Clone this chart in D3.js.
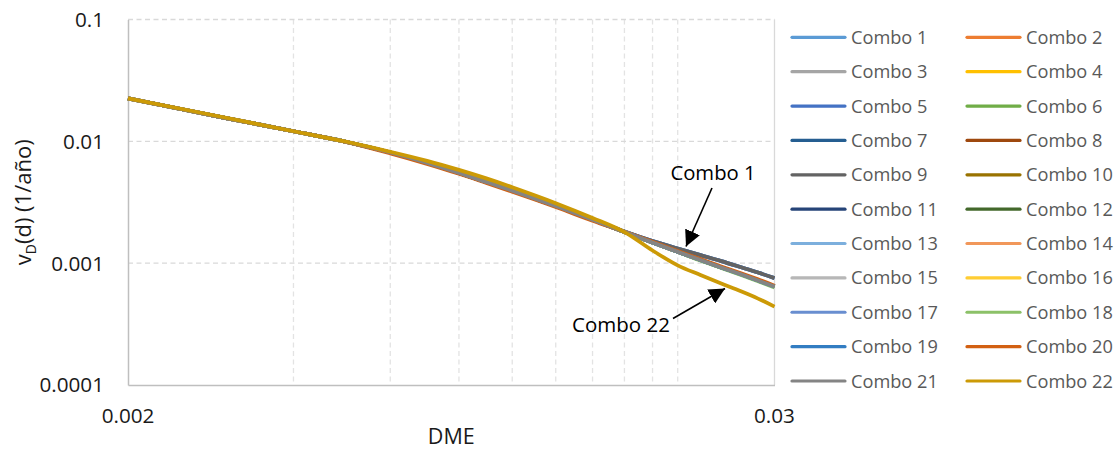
<!DOCTYPE html>
<html>
<head>
<meta charset="utf-8">
<script src="https://cdn.jsdelivr.net/npm/d3@7"></script>
<style>
  html, body { margin: 0; padding: 0; background: #ffffff; }
  svg { display: block; font-family: "Open Sans", "Noto Sans", sans-serif; }
</style>
</head>
<body>
<svg id="chart" width="1116" height="451"></svg>
<script>
// DME values shared by every combination
const dme = [0.002, 0.003, 0.004, 0.005, 0.006, 0.007, 0.008, 0.009, 0.010, 0.012,
             0.014, 0.016, 0.018, 0.020, 0.022, 0.024, 0.026, 0.028, 0.030];

// Annual rate of exceedance νD(d) for each combination
const combo1  = [0.0225, 0.0156, 0.0121, 0.00987, 0.00809, 0.00666, 0.00551, 0.00461, 0.00394, 0.00297, 0.00229, 0.00182, 0.00152, 0.00132, 0.001165, 0.00104, 0.00093, 0.000837, 0.000754];
const combo2  = [0.0225, 0.0156, 0.0121, 0.00987, 0.00809, 0.00666, 0.00551, 0.00461, 0.00394, 0.00294, 0.00227, 0.00180, 0.00148, 0.00124, 0.00106, 0.000923, 0.000814, 0.000722, 0.000642];
const combo3  = [0.0225, 0.0156, 0.0121, 0.00987, 0.00809, 0.00666, 0.00551, 0.00461, 0.00394, 0.00294, 0.00227, 0.00180, 0.00148, 0.00124, 0.00106, 0.000923, 0.000814, 0.000722, 0.000642];
const combo4  = [0.0225, 0.0156, 0.0121, 0.00987, 0.00809, 0.00666, 0.00551, 0.00461, 0.00394, 0.00294, 0.00227, 0.00180, 0.00148, 0.00124, 0.00106, 0.000923, 0.000814, 0.000722, 0.000642];
const combo5  = [0.0225, 0.0156, 0.0121, 0.00987, 0.00809, 0.00666, 0.00551, 0.00461, 0.00394, 0.00297, 0.00229, 0.00182, 0.00152, 0.00132, 0.001165, 0.00104, 0.00093, 0.000837, 0.000754];
const combo6  = [0.0225, 0.0156, 0.0121, 0.00987, 0.00809, 0.00666, 0.00551, 0.00461, 0.00394, 0.00294, 0.00227, 0.00180, 0.00148, 0.00124, 0.00106, 0.000923, 0.000814, 0.000722, 0.000642];
const combo7  = [0.0225, 0.0156, 0.0121, 0.00987, 0.00809, 0.00666, 0.00551, 0.00461, 0.00394, 0.00294, 0.00227, 0.00180, 0.00148, 0.00124, 0.00106, 0.000923, 0.000814, 0.000722, 0.000642];
const combo8  = [0.0225, 0.0156, 0.0121, 0.00987, 0.00809, 0.00666, 0.00551, 0.00461, 0.00394, 0.00294, 0.00227, 0.00180, 0.00148, 0.00124, 0.00106, 0.000923, 0.000814, 0.000722, 0.000642];
const combo9  = [0.0225, 0.0156, 0.0121, 0.00987, 0.00809, 0.00666, 0.00551, 0.00461, 0.00394, 0.00297, 0.00229, 0.00182, 0.00152, 0.00132, 0.001165, 0.00104, 0.00093, 0.000837, 0.000754];
const combo10 = [0.0225, 0.0156, 0.0121, 0.00987, 0.00809, 0.00666, 0.00551, 0.00461, 0.00394, 0.00294, 0.00227, 0.00180, 0.00148, 0.00124, 0.00106, 0.000923, 0.000814, 0.000722, 0.000642];
const combo11 = [0.0225, 0.0156, 0.0121, 0.00987, 0.00809, 0.00666, 0.00551, 0.00461, 0.00394, 0.00294, 0.00227, 0.00180, 0.00148, 0.00124, 0.00106, 0.000923, 0.000814, 0.000722, 0.000642];
const combo12 = [0.0225, 0.0156, 0.0121, 0.00987, 0.00809, 0.00666, 0.00551, 0.00461, 0.00394, 0.00294, 0.00227, 0.00180, 0.00148, 0.00124, 0.00106, 0.000923, 0.000814, 0.000722, 0.000642];
const combo13 = [0.0225, 0.0156, 0.0121, 0.00987, 0.00809, 0.00666, 0.00551, 0.00461, 0.00394, 0.00294, 0.00227, 0.00180, 0.00148, 0.00124, 0.00106, 0.000923, 0.000814, 0.000722, 0.000642];
const combo14 = [0.0225, 0.0156, 0.0121, 0.00987, 0.00809, 0.00666, 0.00551, 0.00461, 0.00394, 0.00294, 0.00227, 0.00180, 0.00148, 0.00124, 0.00106, 0.000923, 0.000814, 0.000722, 0.000642];
const combo15 = [0.0225, 0.0156, 0.0121, 0.00987, 0.00809, 0.00666, 0.00551, 0.00461, 0.00394, 0.00294, 0.00227, 0.00180, 0.00148, 0.00124, 0.00106, 0.000923, 0.000814, 0.000722, 0.000642];
const combo16 = [0.0225, 0.0156, 0.0121, 0.00987, 0.00809, 0.00666, 0.00551, 0.00461, 0.00394, 0.00294, 0.00227, 0.00180, 0.00148, 0.00124, 0.00106, 0.000923, 0.000814, 0.000722, 0.000642];
const combo17 = [0.0225, 0.0156, 0.0121, 0.00987, 0.00809, 0.00666, 0.00551, 0.00461, 0.00394, 0.00294, 0.00227, 0.00180, 0.00148, 0.00124, 0.00106, 0.000923, 0.000814, 0.000722, 0.000642];
const combo18 = [0.0225, 0.0156, 0.0121, 0.00987, 0.00809, 0.00666, 0.00551, 0.00461, 0.00394, 0.00294, 0.00227, 0.00180, 0.00148, 0.00124, 0.00105, 0.000915, 0.000805, 0.000711, 0.000630];
const combo19 = [0.0225, 0.0156, 0.0121, 0.00987, 0.00809, 0.00666, 0.00551, 0.00461, 0.00394, 0.00294, 0.00227, 0.00180, 0.00148, 0.00124, 0.00106, 0.000923, 0.000814, 0.000722, 0.000642];
const combo20 = [0.0225, 0.0156, 0.0121, 0.00985, 0.00796, 0.00653, 0.00541, 0.00453, 0.00386, 0.00289, 0.00223, 0.00181, 0.00150, 0.00126, 0.00108, 0.00094, 0.00083, 0.000736, 0.000654];
const combo21 = [0.0225, 0.0156, 0.0121, 0.00987, 0.00809, 0.00666, 0.00551, 0.00461, 0.00394, 0.00294, 0.00227, 0.00180, 0.00148, 0.00124, 0.00106, 0.000923, 0.000814, 0.000722, 0.000642];
const combo22 = [0.0225, 0.0157, 0.0121, 0.00992, 0.00822, 0.00692, 0.00583, 0.00494, 0.00420, 0.00311, 0.00235, 0.00180, 0.00127, 0.00096, 0.000799, 0.00068, 0.00059, 0.000512, 0.00044];

const seriesNames = ["Combo 1", "Combo 2", "Combo 3", "Combo 4", "Combo 5", "Combo 6", "Combo 7", "Combo 8",
  "Combo 9", "Combo 10", "Combo 11", "Combo 12", "Combo 13", "Combo 14", "Combo 15", "Combo 16",
  "Combo 17", "Combo 18", "Combo 19", "Combo 20", "Combo 21", "Combo 22"];
const seriesValues = [combo1, combo2, combo3, combo4, combo5, combo6, combo7, combo8, combo9, combo10, combo11,
  combo12, combo13, combo14, combo15, combo16, combo17, combo18, combo19, combo20, combo21, combo22];
const seriesColors = ["#5B9BD5", "#ED7D31", "#A5A5A5", "#FFC000", "#4472C4", "#70AD47", "#255E91", "#9E480E",
  "#636363", "#997300", "#264478", "#43682B", "#7CAFDD", "#F1975A", "#B7B7B7", "#FFCD33",
  "#698ED0", "#8CC168", "#327DC2", "#D26012", "#848484", "#CC9A06"];

// Axis ticks and gridlines
const xTickLabels = [0.002, 0.03];
const xGridValues = [0.004, 0.006, 0.008, 0.010, 0.012, 0.014, 0.016, 0.018, 0.020];
const yTickValues = [0.1, 0.01, 0.001, 0.0001];

// Callouts
const calloutLabels = ["Combo 1", "Combo 22"];

const svg = d3.select("#chart");
const plot = { left: 128, right: 774.5, top: 19.5, bottom: 385 };

const x = d3.scaleLog().domain([0.002, 0.03]).range([plot.left, plot.right]);
const y = d3.scaleLog().domain([0.0001, 0.1]).range([plot.bottom, plot.top]);

// Gridlines
const grid = svg.append("g");
grid.selectAll("line.vg").data(xGridValues).join("line")
  .attr("x1", d => x(d)).attr("x2", d => x(d))
  .attr("y1", plot.top).attr("y2", plot.bottom)
  .attr("stroke", "#e3e3e3").attr("stroke-width", 1.3).attr("stroke-dasharray", "5,3.5");
grid.selectAll("line.hg").data(yTickValues.slice(0, 3)).join("line")
  .attr("x1", plot.left).attr("x2", plot.right)
  .attr("y1", d => y(d)).attr("y2", d => y(d))
  .attr("stroke", "#d9d9d9").attr("stroke-width", 1.3).attr("stroke-dasharray", "5,3.5");
// right edge of the plot area
grid.append("line")
  .attr("x1", plot.right).attr("x2", plot.right)
  .attr("y1", plot.top).attr("y2", plot.bottom)
  .attr("stroke", "#d9d9d9").attr("stroke-width", 1.3);

// Axes (lines drawn with d3 axis generators, labels positioned separately)
const yAxis = svg.append("g").attr("transform", `translate(${plot.left},0)`)
  .call(d3.axisLeft(y).tickValues(yTickValues).tickSize(0).tickFormat(""));
yAxis.select(".domain").attr("stroke", "#bfbfbf").attr("stroke-width", 1.5);
const xAxis = svg.append("g").attr("transform", `translate(0,${plot.bottom})`)
  .call(d3.axisBottom(x).tickValues(xTickLabels).tickSize(0).tickFormat(""));
xAxis.select(".domain").attr("stroke", "#bfbfbf").attr("stroke-width", 1.5);

svg.append("g").selectAll("text").data(yTickValues).join("text")
  .attr("x", 104).attr("y", d => y(d) + 7.4)
  .attr("text-anchor", "end").attr("font-size", 20.7).attr("fill", "#1a1a1a")
  .text(d => String(d));
svg.append("g").selectAll("text").data(xTickLabels).join("text")
  .attr("x", d => x(d)).attr("y", 423)
  .attr("text-anchor", "middle").attr("font-size", 20.7).attr("fill", "#1a1a1a")
  .text(d => String(d));

// Axis titles
svg.append("text").attr("x", (plot.left + plot.right) / 2).attr("y", 444)
  .attr("text-anchor", "middle").attr("font-size", 21.5).attr("fill", "#1a1a1a").text("DME");
const yTitle = svg.append("text")
  .attr("transform", `translate(31,${(plot.top + plot.bottom) / 2}) rotate(-90)`)
  .attr("text-anchor", "middle").attr("font-size", 22).attr("fill", "#1a1a1a");
yTitle.append("tspan").text("v");
yTitle.append("tspan").attr("font-size", 14).attr("dy", 5).text("D");
yTitle.append("tspan").attr("dy", -5).text("(d) (1/año)");

// Curves
const line = d3.line()
  .x((d, i) => x(dme[i]))
  .y(d => y(d))
  .curve(d3.curveCatmullRom.alpha(0.5));
svg.append("g").selectAll("path").data(seriesValues).join("path")
  .attr("d", d => line(d))
  .attr("fill", "none")
  .attr("stroke", (d, i) => seriesColors[i])
  .attr("stroke-width", 3.75)
  .attr("stroke-linejoin", "round");

// Callout arrows
const defs = svg.append("defs");
defs.append("marker").attr("id", "arrowHead")
  .attr("viewBox", "0 0 10 10").attr("refX", 10).attr("refY", 5)
  .attr("markerWidth", 16).attr("markerHeight", 16).attr("markerUnits", "userSpaceOnUse")
  .attr("orient", "auto")
  .append("path").attr("d", "M0,0 L10,5 L0,10 Z").attr("fill", "#000");

const ann = svg.append("g");
ann.append("line").attr("x1", 712).attr("y1", 188).attr("x2", 686).attr("y2", 246.5)
  .attr("stroke", "#000").attr("stroke-width", 1.6).attr("marker-end", "url(#arrowHead)");
ann.append("line").attr("x1", 673).attr("y1", 318.5).attr("x2", 725).attr("y2", 288.5)
  .attr("stroke", "#000").attr("stroke-width", 1.6).attr("marker-end", "url(#arrowHead)");
ann.append("text").attr("x", 713).attr("y", 179.5).attr("text-anchor", "middle")
  .attr("font-size", 20.3).attr("fill", "#000").text(calloutLabels[0]);
ann.append("text").attr("x", 621).attr("y", 331.5).attr("text-anchor", "middle")
  .attr("font-size", 20.5).attr("fill", "#000").text(calloutLabels[1]);

// Legend, two columns
const legend = svg.append("g");
const rows = legend.selectAll("g").data(seriesNames).join("g")
  .attr("transform", (d, i) => {
    const col = i % 2, row = Math.floor(i / 2);
    return `translate(${col === 0 ? 792 : 967},${37.3 + row * 34.37})`;
  });
rows.append("line").attr("x1", 0).attr("x2", 53).attr("y1", 0).attr("y2", 0)
  .attr("stroke", (d, i) => seriesColors[i]).attr("stroke-width", 3.2).attr("stroke-linecap", "round");
rows.append("text").attr("x", 59).attr("y", 6.5)
  .attr("font-size", 18.2).attr("fill", "#595959").text(d => d);
</script>
</body>
</html>
